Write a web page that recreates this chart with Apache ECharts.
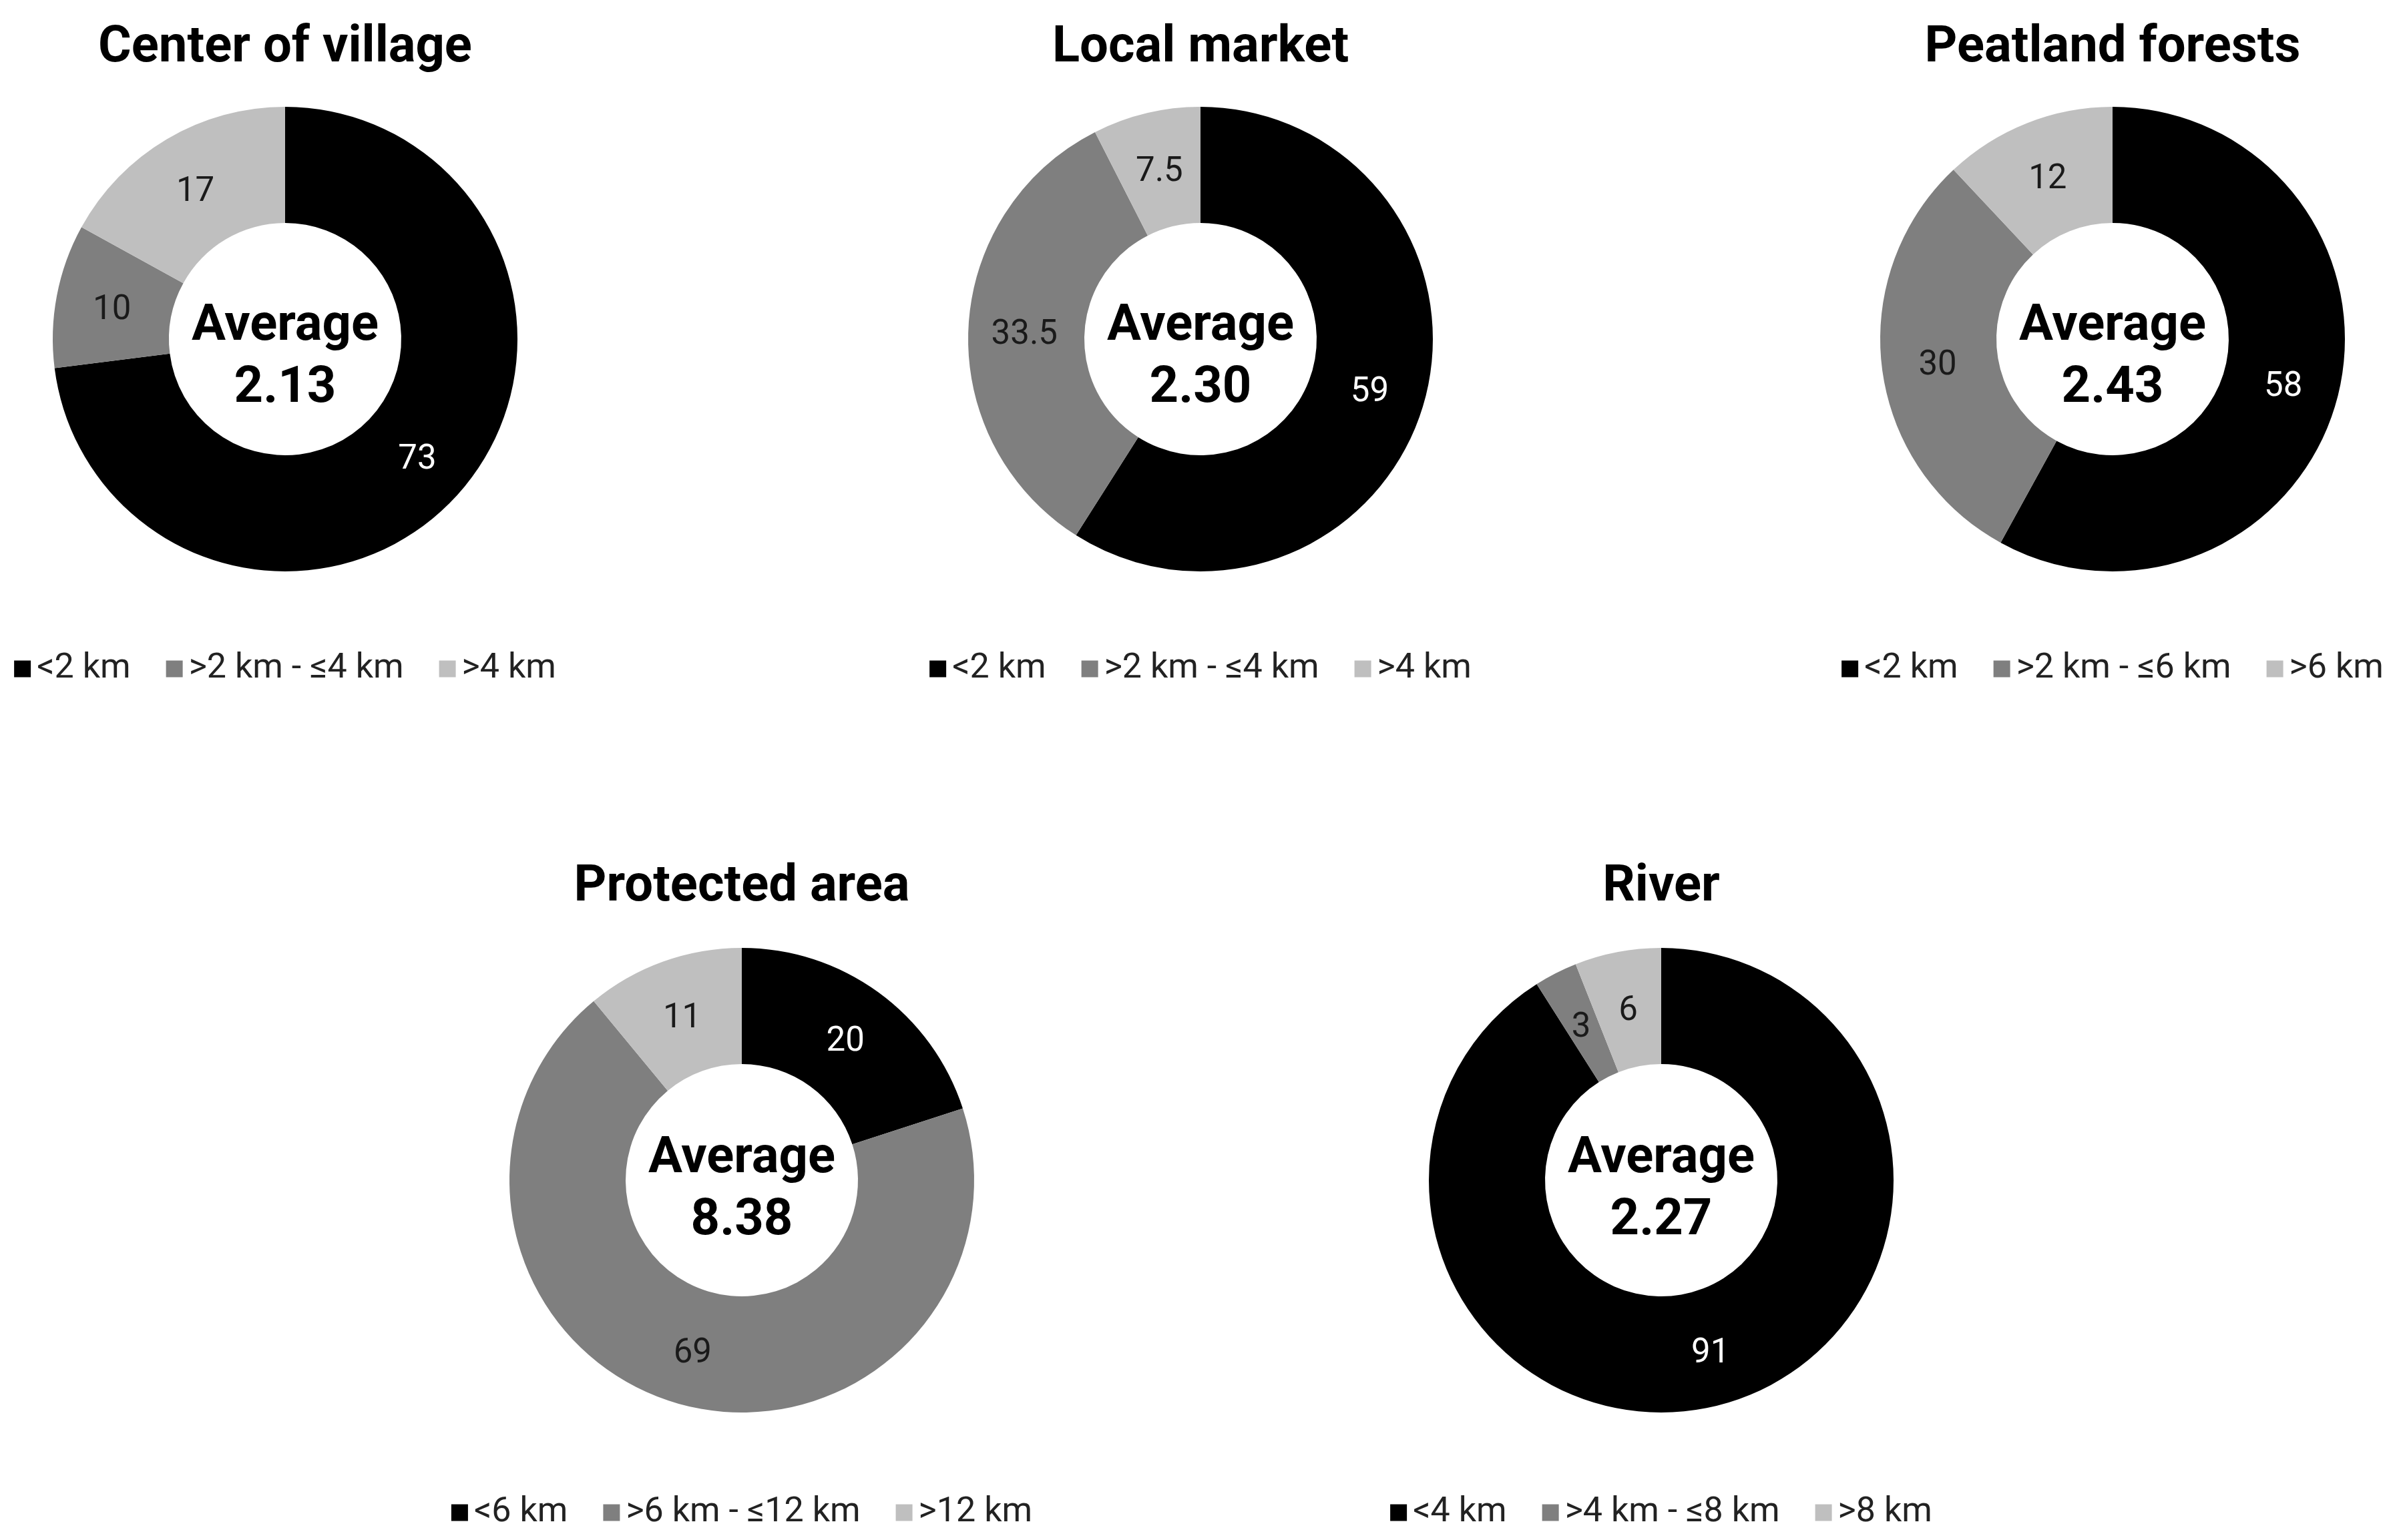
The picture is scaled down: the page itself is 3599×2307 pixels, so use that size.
<!DOCTYPE html>
<html>
<head>
<meta charset="utf-8">
<script src="https://cdn.jsdelivr.net/npm/echarts@6/dist/echarts.min.js"></script>
<style>
html,body{margin:0;padding:0;background:#fff;}
#chart{width:3599px;height:2307px;}
</style>
</head>
<body>
<div id="chart"></div>
<script>
// ---- data ----
const titles = ['Center of village', 'Local market', 'Peatland forests', 'Protected area', 'River'];
const averages = ['2.13', '2.30', '2.43', '8.38', '2.27'];
const catsCenter = ['<2 km', '>2 km - \u22644 km', '>4 km'];
const catsMarket = ['<2 km', '>2 km - \u22644 km', '>4 km'];
const catsPeat = ['<2 km', '>2 km - \u22646 km', '>6 km'];
const catsProtected = ['<6 km', '>6 km - \u226412 km', '>12 km'];
const catsRiver = ['<4 km', '>4 km - \u22648 km', '>8 km'];
const valsCenter = [73, 10, 17];
const valsMarket = [59, 33.5, 7.5];
const valsPeat = [58, 30, 12];
const valsProtected = [20, 69, 11];
const valsRiver = [91, 3, 6];

const allCats = [catsCenter, catsMarket, catsPeat, catsProtected, catsRiver];
const allVals = [valsCenter, valsMarket, valsPeat, valsProtected, valsRiver];

// ---- layout / style ----
const centers = [[427, 508], [1798, 508], [3164, 508], [1111, 1768], [2488, 1768]];
const avgOffset = [28, 28, 28, 15, 15];
const titleY = [73, 73, 73, 1330, 1330];
const legendY = [1007, 1007, 1007, 2271, 2271];
const colors = ['#000000', '#7f7f7f', '#bfbfbf'];
const labelColors = ['#ffffff', '#1a1a1a', '#1a1a1a'];
const FONT = 'Roboto';
const legendFont = 52, iconSize = 25, iconGap = 4, itemGap = 53;

const cv = document.createElement('canvas').getContext('2d');
cv.font = legendFont + 'px ' + FONT;
function legendWidth(names) {
  let w = 0;
  names.forEach((n, i) => { w += iconSize + 5 + iconGap + cv.measureText(n).width; if (i) w += itemGap; });
  return w;
}

const series = [], title = [], legend = [];
for (let k = 0; k < 5; k++) {
  const [cx, cy] = centers[k];
  series.push({
    type: 'pie',
    center: [cx, cy],
    radius: [174, 348],
    startAngle: 90,
    clockwise: true,
    avoidLabelOverlap: false,
    silent: true,
    emphasis: { disabled: true },
    label: { show: true, position: 'inside', formatter: '{c}', fontFamily: FONT, fontSize: 51, offset: [0, 7] },
    labelLine: { show: false },
    data: allCats[k].map((n, i) => ({
      name: n, value: allVals[k][i],
      itemStyle: { color: colors[i] },
      label: { color: labelColors[i] }
    }))
  });
  title.push({
    text: titles[k], left: cx, top: titleY[k], textAlign: 'center', textVerticalAlign: 'middle', padding: 0,
    textStyle: { fontFamily: FONT, fontSize: 76, fontWeight: 'bold', color: '#000' }
  });
  title.push({
    text: 'Average\n' + averages[k], left: cx, top: cy + avgOffset[k], textAlign: 'center', textVerticalAlign: 'middle', padding: 0,
    textStyle: { fontFamily: FONT, fontSize: 76, fontWeight: 'bold', color: '#000', lineHeight: 93 }
  });
  const lw = legendWidth(allCats[k]);
  legend.push({
    data: allCats[k], orient: 'horizontal', left: cx - lw / 2, top: legendY[k] - 31, padding: 0,
    icon: 'rect', itemWidth: iconSize, itemHeight: iconSize, itemGap: itemGap, selectedMode: false,
    textStyle: { fontFamily: FONT, fontSize: legendFont, color: '#222', padding: [0, 0, 0, iconGap] }
  });
}

const chart = echarts.init(document.getElementById('chart'), null, { renderer: 'canvas' });
chart.setOption({ animation: false, backgroundColor: '#fff', title, legend, series });
</script>
</body>
</html>
